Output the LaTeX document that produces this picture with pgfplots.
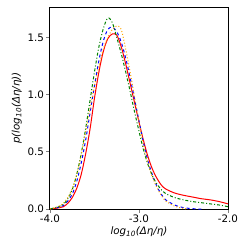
\documentclass[border=0pt]{standalone}
\usepackage{pgfplots}
\pgfplotsset{compat=1.18}
\usepackage{fontspec}
\setmainfont{DejaVu Sans}
\definecolor{mplgreen}{RGB}{0,128,0}
\definecolor{mplorange}{RGB}{255,165,0}
\begin{document}
\begin{tikzpicture}
\begin{axis}[
  scale only axis, width=178pt, height=202pt,
  xmin=-4, xmax=-2, ymin=0, ymax=1.766,
  xtick={-4,-3,-2}, ytick={0,0.5,1.0,1.5},
  xticklabels={-4.0,-3.0,-2.0},
  yticklabel style={/pgf/number format/fixed,/pgf/number format/fixed zerofill,/pgf/number format/precision=1},
  /pgf/number format/assume math mode=true,
  tick align=outside, tick pos=left,
  major tick length=3.5pt,
  major tick style={line width=0.8pt},
  ticklabel style={font=\fontsize{10.3}{12}\selectfont},
  xticklabel style={yshift=1pt},
  yticklabel style={xshift=1pt},
  axis line style={line width=1pt},
  xlabel={\textit{log\textsubscript{10}(Δη/η)}},
  ylabel={\textit{p(log\textsubscript{10}(Δη/η))}},
  label style={font=\fontsize{10.3}{12}\selectfont},
  xlabel style={yshift=3pt},
  ylabel style={yshift=-1pt},
  every axis plot/.append style={line width=1pt, smooth},
]
\addplot[red] coordinates {
(-4.0,0) (-3.9,0.01) (-3.85,0.02) (-3.8,0.05) (-3.75,0.1) (-3.7,0.18) (-3.65,0.3) (-3.6,0.48) (-3.55,0.7) (-3.5,0.97) (-3.45,1.2) (-3.4,1.38) (-3.35,1.49) (-3.3,1.53) (-3.25,1.52) (-3.2,1.42) (-3.15,1.27) (-3.1,1.1) (-3.05,0.93) (-3.0,0.76) (-2.95,0.6) (-2.9,0.46) (-2.85,0.35) (-2.8,0.27) (-2.75,0.21) (-2.7,0.175) (-2.6,0.14) (-2.5,0.12) (-2.4,0.105) (-2.3,0.09) (-2.2,0.08) (-2.1,0.065) (-2.0,0.045)};
\addplot[blue, dashed] coordinates {
(-4.0,0) (-3.9,0.015) (-3.85,0.03) (-3.8,0.07) (-3.75,0.13) (-3.7,0.24) (-3.65,0.4) (-3.6,0.6) (-3.55,0.84) (-3.5,1.08) (-3.45,1.3) (-3.4,1.47) (-3.35,1.57) (-3.3,1.59) (-3.25,1.55) (-3.2,1.46) (-3.15,1.32) (-3.1,1.15) (-3.05,0.96) (-3.0,0.77) (-2.95,0.58) (-2.9,0.42) (-2.85,0.3) (-2.8,0.2) (-2.75,0.13) (-2.7,0.08) (-2.6,0.035) (-2.5,0.012) (-2.4,0.003) (-2.35,0) (-2.3,0)};
\addplot[mplgreen, dash dot] coordinates {
(-4.0,0) (-3.9,0.02) (-3.85,0.04) (-3.8,0.09) (-3.75,0.17) (-3.7,0.3) (-3.65,0.48) (-3.6,0.7) (-3.55,0.95) (-3.5,1.2) (-3.45,1.42) (-3.4,1.58) (-3.35,1.67) (-3.3,1.63) (-3.25,1.5) (-3.2,1.36) (-3.15,1.2) (-3.1,1.03) (-3.05,0.85) (-3.0,0.68) (-2.95,0.52) (-2.9,0.39) (-2.85,0.29) (-2.8,0.22) (-2.75,0.17) (-2.7,0.135) (-2.6,0.1) (-2.5,0.08) (-2.4,0.065) (-2.3,0.055) (-2.2,0.045) (-2.1,0.035) (-2.0,0.02)};
\addplot[mplorange, dotted] coordinates {
(-4.0,0) (-3.9,0.025) (-3.85,0.05) (-3.8,0.1) (-3.75,0.18) (-3.7,0.3) (-3.65,0.47) (-3.6,0.67) (-3.55,0.88) (-3.5,1.08) (-3.45,1.25) (-3.4,1.4) (-3.35,1.5) (-3.3,1.57) (-3.25,1.6) (-3.2,1.57) (-3.15,1.4) (-3.1,1.2) (-3.05,0.98) (-3.0,0.76) (-2.95,0.56) (-2.9,0.4) (-2.85,0.28) (-2.8,0.19) (-2.75,0.12) (-2.7,0.07) (-2.6,0.025) (-2.5,0.005) (-2.45,0)};
\end{axis}
\path (current axis.south west) ++(-50pt,-40pt) (current axis.north east) ++(21pt,7pt);
\end{tikzpicture}
\end{document}
